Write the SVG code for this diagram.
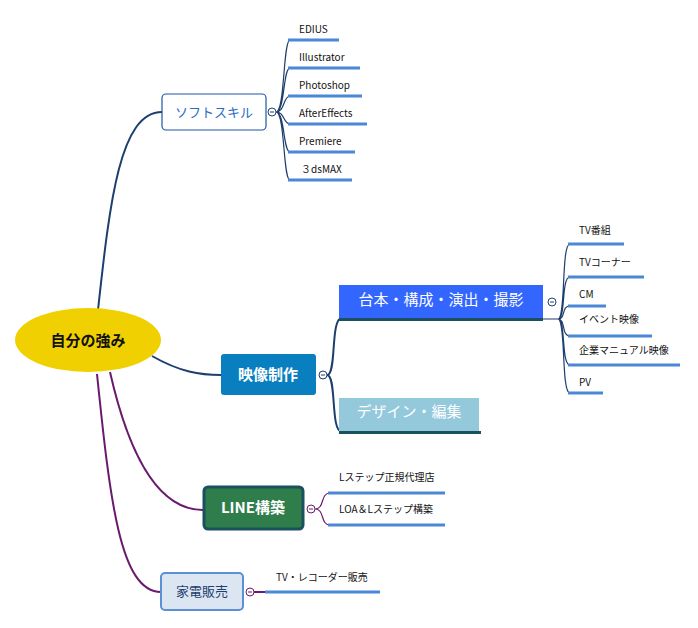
<svg xmlns="http://www.w3.org/2000/svg" width="698" height="628" viewBox="0 0 698 628">
<style>
text{font-family:"Noto Sans CJK JP","Noto Sans",sans-serif;}
.t{font-size:10px;fill:#111}
.ul{stroke:#4a88d6;stroke-width:3;fill:none}
.nv{stroke:#1e3f6e;stroke-width:2;fill:none}
.nv1{stroke:#1e3f6e;stroke-width:1.2;fill:none}
.pp{stroke:#6a1a6e;stroke-width:2;fill:none}
.pp1{stroke:#6a1a6e;stroke-width:1.2;fill:none}
.cc{fill:#fff;stroke-width:1}
</style>
<rect width="698" height="628" fill="#fff"/>
<g id="connectors">
<path class="nv" d="M98,310 C110,200 120,112 162,112"/>
<path class="nv" d="M152,356 C180,372 200,375 221,375"/>
<path class="pp" d="M110,372 C130,460 160,510 203,510"/>
<path class="pp" d="M97,374 C110,500 120,592 161,592"/>
<path class="nv1" d="M276,112 C285,112 283,40 290,40 M276,112 C285,112 283,68 290,68 M276,112 C285,112 283,96 290,96 M276,112 C285,112 283,124 290,124 M276,112 C285,112 283,152 290,152 M276,112 C285,112 283,180 290,180"/>
<path class="nv" d="M327,375 C337,375 330,318 342,318 M327,375 C337,375 330,432 342,432"/>
<path class="nv1" d="M543,319 L558,319 M558,319 C566,319 561,244 570,244 M558,319 C566,319 561,277 570,277 M558,319 C566,319 561,306 570,306 M558,319 C566,319 561,336 570,336 M558,319 C566,319 561,365 570,365 M558,319 C566,319 561,393 570,393"/>
<path class="pp1" d="M315,509 C325,509 320,493 330,493 M315,509 C325,509 320,525 330,525"/>
<path class="pp" d="M254,592 L266,592"/>
</g>
<g id="center"><ellipse cx="88" cy="340" rx="73" ry="32" fill="#f0d000"/><text x="88" y="346" text-anchor="middle" font-size="15" font-weight="bold" fill="#111">自分の強み</text></g>
<g id="soft"><rect x="162" y="94" width="104" height="36" rx="4" fill="#fff" stroke="#1e57a8" stroke-width="1.2"/><text x="214" y="117" text-anchor="middle" font-size="13" fill="#2a6cc0">ソフトスキル</text><circle class="cc" cx="272" cy="112" r="4" stroke="#1e3f6e"/><path d="M270,112h4" stroke="#1e3f6e"/></g>
<g id="soft-children">
<path class="ul" d="M288,40H339 M288,68H360 M288,96H362 M288,124H367 M288,152H355 M288,180H352"/>
<text class="t" x="299" y="33">EDIUS</text><text class="t" x="299" y="61">Illustrator</text><text class="t" x="299" y="89">Photoshop</text><text class="t" x="299" y="117">AfterEffects</text><text class="t" x="299" y="145">Premiere</text><text class="t" x="301" y="173">３dsMAX</text>
</g>
<g id="eizo"><rect x="221" y="354" width="95" height="41" rx="3" fill="#0a7fbf"/><text x="268" y="380" text-anchor="middle" font-size="15" font-weight="bold" fill="#fff">映像制作</text><circle class="cc" cx="323" cy="375" r="4" stroke="#1e3f6e"/><path d="M321,375h4" stroke="#1e3f6e"/></g>
<g id="daihon"><rect x="339" y="285" width="204" height="34" fill="#3366ff"/><path d="M339,319.5H543" stroke="#1a5060" stroke-width="3"/><text x="441" y="305" text-anchor="middle" font-size="15" fill="#fff">台本・構成・演出・撮影</text><circle class="cc" cx="552" cy="302" r="4" stroke="#1e3f6e"/><path d="M550,302h4" stroke="#1e3f6e"/></g>
<g id="design"><rect x="339" y="398" width="140" height="34" fill="#94c9dc"/><path d="M339,432.5H481" stroke="#1a5060" stroke-width="3"/><text x="409" y="417" text-anchor="middle" font-size="15" fill="#fff">デザイン・編集</text></g>
<g id="daihon-children">
<path class="ul" d="M568,244H624 M568,277H644 M568,306H606 M568,336H652 M568,365H680 M568,393H603"/>
<text class="t" x="579" y="234">TV番組</text><text class="t" x="579" y="266">TVコーナー</text><text class="t" x="579" y="298">CM</text><text class="t" x="579" y="323">イベント映像</text><text class="t" x="579" y="354">企業マニュアル映像</text><text class="t" x="579" y="386">PV</text>
</g>
<g id="line"><rect x="204" y="487" width="99" height="42" rx="4" fill="#2e7d4a" stroke="#1a5060" stroke-width="3"/><text x="253" y="513" text-anchor="middle" font-size="15" font-weight="bold" fill="#fff">LINE構築</text><circle class="cc" cx="311" cy="509" r="4" stroke="#6a1a6e"/><path d="M309,509h4" stroke="#6a1a6e"/></g>
<g id="line-children"><path class="ul" d="M328,493H445 M328,525H445"/><text class="t" x="339" y="481">Lステップ正規代理店</text><text class="t" x="339" y="513">LOA＆Lステップ構築</text></g>
<g id="kaden"><rect x="161" y="573" width="82" height="37" rx="4" fill="#dce6f2" stroke="#5b8fd6" stroke-width="2"/><text x="202" y="596" text-anchor="middle" font-size="13" fill="#1e3f6e">家電販売</text><circle class="cc" cx="250" cy="592" r="4" stroke="#6a1a6e"/><path d="M248,592h4" stroke="#6a1a6e"/></g>
<g id="kaden-children"><path class="ul" d="M265,592H380"/><text class="t" x="276" y="581">TV・レコーダー販売</text></g>
</svg>
